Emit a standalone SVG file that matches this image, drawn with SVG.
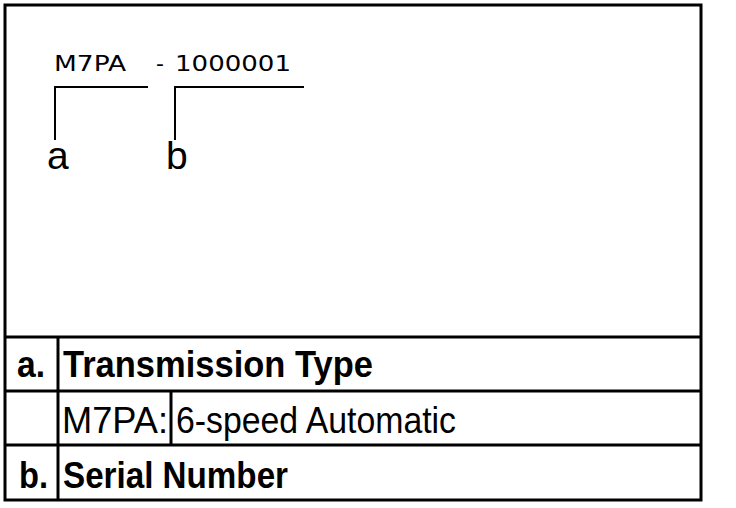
<svg xmlns="http://www.w3.org/2000/svg" width="736" height="508" viewBox="0 0 736 508">
<style>
.frame{fill:none;stroke:#000;stroke-width:3}
.rule{stroke:#000;stroke-width:3;fill:none}
.lead{stroke:#000;stroke-width:2;fill:none}
.code{font-family:"DejaVu Sans",sans-serif;font-size:22px;fill:#000}
.tag{font-family:"Liberation Sans",Arial,sans-serif;font-size:39px;fill:#000}
.hd{font-family:"Liberation Sans",Arial,sans-serif;font-size:36px;font-weight:bold;fill:#000}
.tx{font-family:"Liberation Sans",Arial,sans-serif;font-size:36px;fill:#000}
</style>
<rect x="0" y="0" width="736" height="508" fill="#fff"/>
<rect class="frame" x="5" y="5" width="696" height="495"/>
<g id="code">
<text class="code" x="54" y="71" textLength="72" lengthAdjust="spacingAndGlyphs">M7PA</text>
<text class="code" x="156" y="71">-</text>
<text class="code" x="175" y="71" textLength="116" lengthAdjust="spacingAndGlyphs">1000001</text>
</g>
<g id="connectors">
<polyline class="lead" points="55,140 55,87 148,87"/>
<polyline class="lead" points="175,140 175,87 304,87"/>
</g>
<g id="label-a"><text class="tag" x="47" y="169">a</text></g>
<g id="label-b"><text class="tag" x="166" y="169">b</text></g>
<g id="table">
<line class="rule" x1="5" y1="337" x2="701" y2="337"/>
<line class="rule" x1="5" y1="391" x2="701" y2="391"/>
<line class="rule" x1="5" y1="445" x2="701" y2="445"/>
<line class="rule" x1="58" y1="337" x2="58" y2="500"/>
<line class="rule" x1="171" y1="391" x2="171" y2="445"/>
<text class="hd" x="17" y="377" textLength="28" lengthAdjust="spacingAndGlyphs">a.</text>
<text class="hd" x="63" y="377" textLength="310" lengthAdjust="spacingAndGlyphs">Transmission Type</text>
<text class="tx" x="62" y="433" textLength="106" lengthAdjust="spacingAndGlyphs">M7PA:</text>
<text class="tx" x="176" y="433" textLength="280" lengthAdjust="spacingAndGlyphs">6-speed Automatic</text>
<text class="hd" x="19" y="488" textLength="29" lengthAdjust="spacingAndGlyphs">b.</text>
<text class="hd" x="63" y="488" textLength="225" lengthAdjust="spacingAndGlyphs">Serial Number</text>
</g>
</svg>
